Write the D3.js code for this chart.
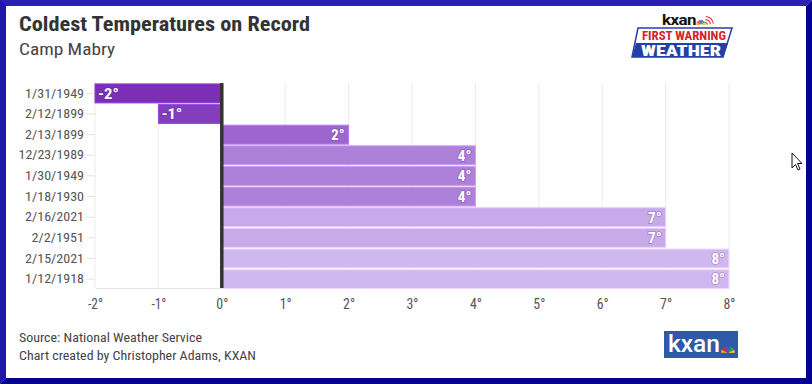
<!DOCTYPE html>
<html>
<head>
<meta charset="utf-8">
<script src="https://cdn.jsdelivr.net/npm/d3@7"></script>
<style>
  html, body { margin: 0; padding: 0; background: #fff; }
  svg { display: block; font-family: "Roboto Condensed", Roboto, "Noto Sans", sans-serif; }
</style>
</head>
<body>
<script>
const dates = ["1/31/1949","2/12/1899","2/13/1899","12/23/1989","1/30/1949","1/18/1930","2/16/2021","2/2/1951","2/15/2021","1/12/1918"];
const temps = [-2, -1, 2, 4, 4, 4, 7, 7, 8, 8];
const xTickValues = [-2, -1, 0, 1, 2, 3, 4, 5, 6, 7, 8];
const titleText = "Coldest Temperatures on Record";
const subtitleText = "Camp Mabry";
const sourceLines = ["Source: National Weather Service", "Chart created by Christopher Adams, KXAN"];

const W = 812, H = 384;
const svg = d3.select("body").append("svg").attr("width", W).attr("height", H);

// frame (outset-like border)
svg.append("rect").attr("x", 0).attr("y", 0).attr("width", W).attr("height", H).attr("fill", "#fff");
svg.append("path").attr("d", `M0,0 H${W} L${W-6},6 H6 V${H-6} L0,${H} Z`).attr("fill", "#2a20b6");
svg.append("path").attr("d", `M0,0 L6,6 V${H-6} L0,${H} Z`).attr("fill", "#1f17aa");
svg.append("path").attr("d", `M${W},0 V${H} H0 L6,${H-6} H${W-6} V6 Z`).attr("fill", "#03038f");

// title
svg.append("text").attr("x", 19).attr("y", 31).text(titleText)
  .attr("font-size", 20).attr("font-weight", 700).attr("fill", "#333")
  .attr("textLength", 291).attr("lengthAdjust", "spacingAndGlyphs");
svg.append("text").attr("x", 19).attr("y", 55).text(subtitleText)
  .attr("font-size", 17).attr("fill", "#444")
  .attr("textLength", 96).attr("lengthAdjust", "spacingAndGlyphs");

// scales
const x = d3.scaleLinear().domain([-2, 8]).range([95, 729]);
const y = d3.scaleBand().domain(dates).range([83.5, 289]).paddingInner(0.08).paddingOuter(0.02);
const color = d3.scaleLinear().domain([-2, 8]).range(["#7b2fb7", "#cfb8f0"]);

const g = svg.append("g");

// gridlines
g.append("g").selectAll("line").data(xTickValues).join("line")
  .attr("x1", d => x(d)).attr("x2", d => x(d))
  .attr("y1", 83).attr("y2", 288)
  .attr("stroke", "#ebebeb").attr("stroke-width", 1);

// bottom axis
const xAxis = d3.axisBottom(x).tickValues(xTickValues).tickFormat(d => d + "°").tickSize(0).tickPadding(11);
const xg = g.append("g").attr("transform", "translate(0,288)").call(xAxis);
xg.attr("font-family", null).attr("font-size", null);
xg.select(".domain").attr("stroke", "#e6e6e6");
xg.selectAll(".tick text").attr("font-size", 14).attr("fill", "#555")
  .attr("textLength", d => (d < 0 ? 15 : 12)).attr("lengthAdjust", "spacingAndGlyphs");

// left axis
const yAxis = d3.axisLeft(y).tickSize(8).tickPadding(3);
const yg = g.append("g").attr("transform", "translate(95,0)").call(yAxis);
yg.attr("font-family", null).attr("font-size", null);
yg.select(".domain").remove();
yg.selectAll(".tick line").attr("stroke", "#e2e2e2");
yg.selectAll(".tick text").attr("font-size", 13).attr("fill", "#555")
  .attr("textLength", d => d.length * 6.55).attr("lengthAdjust", "spacingAndGlyphs");

// bars
const rows = dates.map((d, i) => ({ date: d, t: temps[i] }));
g.append("g").selectAll("rect").data(rows).join("rect")
  .attr("x", d => x(Math.min(0, d.t)))
  .attr("width", d => Math.abs(x(d.t) - x(0)))
  .attr("y", d => y(d.date))
  .attr("height", y.bandwidth())
  .attr("fill", d => color(d.t))
  .attr("stroke", d => d3.color(color(d.t)).brighter(0.5))
  .attr("stroke-width", 1);

// zero line
g.append("line").attr("x1", x(0)).attr("x2", x(0)).attr("y1", 83).attr("y2", 288)
  .attr("stroke", "#333").attr("stroke-width", 3.5);

// bar labels
g.append("g").selectAll("text").data(rows).join("text")
  .attr("x", d => d.t < 0 ? x(d.t) + 3 : x(d.t) - 4)
  .attr("y", d => y(d.date) + y.bandwidth() / 2)
  .attr("dy", "0.36em")
  .attr("text-anchor", d => d.t < 0 ? "start" : "end")
  .attr("font-size", 15).attr("font-weight", 700).attr("fill", "#fff")
  .style("paint-order", "stroke").attr("stroke", "rgba(80,40,120,0.25)").attr("stroke-width", 2)
  .attr("textLength", d => (d.t + "°").length * 7.3 - 1).attr("lengthAdjust", "spacingAndGlyphs")
  .text(d => d.t + "°");

// footer
svg.append("g").selectAll("text").data(sourceLines).join("text")
  .attr("x", 19).attr("y", (d, i) => 342 + i * 18)
  .attr("font-size", 13).attr("fill", "#444")
  .attr("textLength", (d, i) => i === 0 ? 183 : 237).attr("lengthAdjust", "spacingAndGlyphs")
  .text(d => d);

// peacock helper
function peacock(parent, cx, cy, r) {
  const cols = ["#f5a623", "#e8262b", "#8a3fa0", "#1f6ec7", "#2aa84a", "#f6c431"];
  const arc = d3.arc().innerRadius(r * 0.15).outerRadius(r);
  const a0 = -Math.PI / 2, step = Math.PI / 6;
  cols.forEach((c, i) => {
    parent.append("path").attr("transform", `translate(${cx},${cy})`)
      .attr("d", arc({ startAngle: a0 + i * step + 0.05, endAngle: a0 + (i + 1) * step - 0.05 }))
      .attr("fill", c);
  });
}

// top logo: kxan First Warning Weather
const lg = svg.append("g");
lg.append("text").attr("x", 662).attr("y", 25).text("kxan")
  .attr("font-size", 15).attr("font-weight", 700).attr("fill", "#111")
  .attr("font-family", "Roboto, sans-serif").attr("letter-spacing", -0.5)
  .attr("textLength", 34).attr("lengthAdjust", "spacingAndGlyphs");
peacock(lg, 701, 25, 5);
[3, 6, 9].forEach(r => {
  lg.append("path").attr("transform", "translate(705,25)")
    .attr("d", d3.arc().innerRadius(r - 1).outerRadius(r)({ startAngle: 0.1, endAngle: 1.4 }))
    .attr("fill", "#e0282e");
});
lg.append("path").attr("d", "M638,28 L732,28 L723,57 L632,57 Z").attr("fill", "#fff")
  .attr("stroke", "#2740a8").attr("stroke-width", 1.5);
lg.append("path").attr("d", "M636,43 L728,43 L723,57 L632,57 Z").attr("fill", "#2340a6");
lg.append("text").attr("x", 684).attr("y", 40).attr("text-anchor", "middle").text("FIRST WARNING")
  .attr("font-size", 12).attr("font-weight", 700).attr("fill", "#d42230")
  .attr("textLength", 84).attr("lengthAdjust", "spacingAndGlyphs");
lg.append("text").attr("x", 681).attr("y", 56).attr("text-anchor", "middle").text("WEATHER")
  .attr("font-size", 14).attr("font-weight", 900).attr("fill", "#fff")
  .attr("textLength", 80).attr("lengthAdjust", "spacingAndGlyphs");

// bottom logo
const bl = svg.append("g");
bl.append("rect").attr("x", 664).attr("y", 331).attr("width", 74).attr("height", 27).attr("fill", "#2e5aa9");
bl.append("text").attr("x", 668).attr("y", 352).text("kxan")
  .attr("font-size", 24).attr("font-weight", 500).attr("fill", "#fff")
  .attr("font-family", "Roboto, sans-serif")
  .attr("textLength", 52).attr("lengthAdjust", "spacingAndGlyphs");
peacock(bl, 728, 353, 7);

// mouse cursor
svg.append("path")
  .attr("d", "M792,153 L792,168 L795.5,164.5 L798,170 L800,169 L797.5,163.5 L802,163.5 Z")
  .attr("fill", "#fff").attr("stroke", "#111").attr("stroke-width", 1);
</script>
</body>
</html>
